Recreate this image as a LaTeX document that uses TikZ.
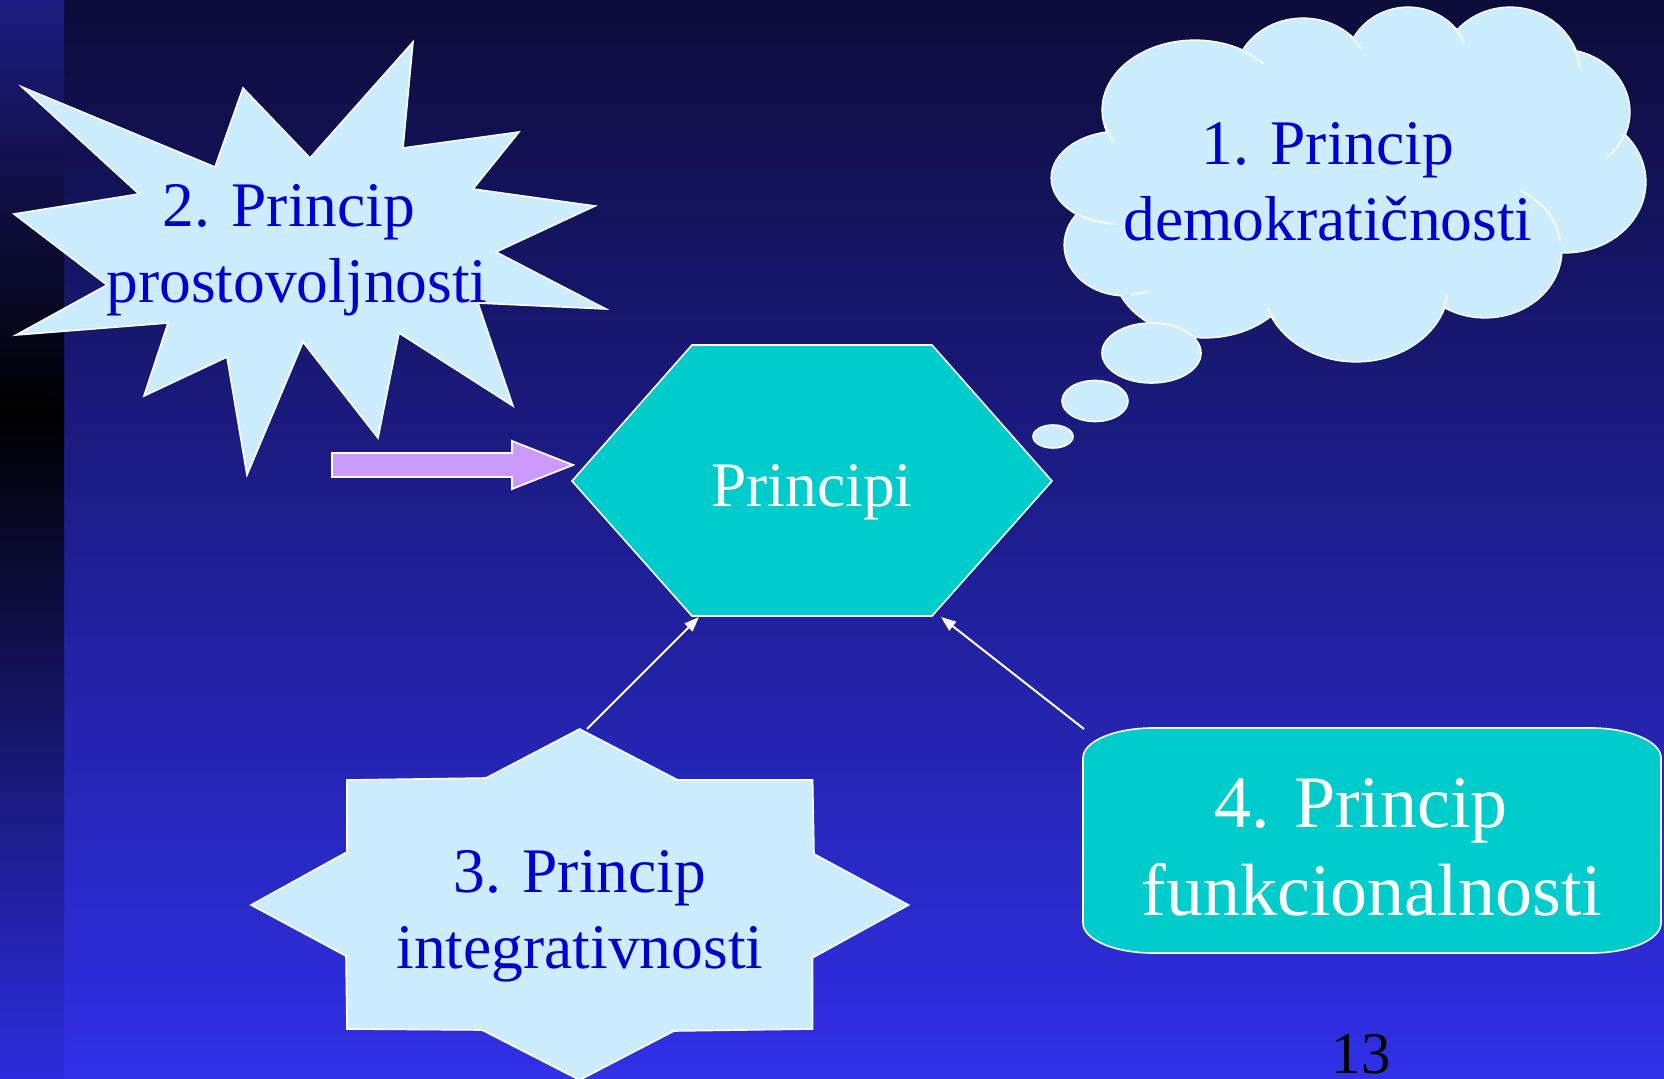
\documentclass[tikz,border=0pt]{standalone}
\usepackage{fontspec}
\setmainfont{Liberation Serif}
\usetikzlibrary{arrows.meta}
\definecolor{lblue}{HTML}{CCECFF}
\definecolor{tblue}{HTML}{0000CC}
\definecolor{tealfill}{HTML}{00CCCC}
\definecolor{purp}{HTML}{CC99FF}
\definecolor{bgtop}{RGB}{12,12,58}
\definecolor{bgbot}{RGB}{48,48,232}
\definecolor{strtop}{RGB}{28,28,128}
\definecolor{strbot}{RGB}{45,45,222}
\begin{document}
\begin{tikzpicture}[x=0.5pt,y=-0.5pt,
  lightshape/.style={fill=lblue,draw=white,line width=0.8pt,line join=miter},
  tealshape/.style={fill=tealfill,draw=white,line width=0.8pt},
  cloudline/.style={draw=white,line width=0.8pt},
  bluetext/.style={text=tblue,anchor=base,inner sep=0pt,font=\fontsize{31.75}{38}\selectfont},
  whitetext/.style={text=white,anchor=base,inner sep=0pt,font=\fontsize{31.75}{38}\selectfont},
  bigwhite/.style={text=white,anchor=base,inner sep=0pt,font=\fontsize{37}{44}\selectfont},
  conn/.style={draw=white,line width=1pt,-{Triangle[length=7.5pt,width=5.5pt]}}]
\useasboundingbox (0,0) rectangle (1664,1079);
% background
\shade[top color=bgtop,bottom color=bgbot] (0,0) rectangle (1664,1079);
\shade[top color=strtop,bottom color=black] (0,0) rectangle (64,413);
\shade[top color=black,bottom color=strbot] (0,413) rectangle (64,1079);
% starburst 2
\draw[lightshape] (22,87) -- (215,167) -- (243,88) -- (310,158) -- (413,42) -- (403,148)
  -- (519,132) -- (473,189) -- (595,206) -- (496,252) -- (606,309) -- (478,303)
  -- (513,406) -- (399,333) -- (378,438) -- (303,342) -- (247,475) -- (227,357)
  -- (144,396) -- (168,323) -- (16,335) -- (107,285) -- (14,214) -- (139,194) -- cycle;
% cloud 1
\foreach \cx/\cy/\rx/\ry in {1195/110/92/69, 1303/80/68/61, 1408/68/62/60, 1510/75/70/67,
  1560/112/69/62, 1565/182/80/70, 1485/250/76/67, 1356/285/92/76, 1205/265/92/72,
  1125/245/60/50, 1120/178/68/46}
  \draw[white,line width=1.6pt] (\cx,\cy) ellipse [x radius=\rx, y radius=\ry];
\foreach \cx/\cy/\rx/\ry in {1195/110/92/69, 1303/80/68/61, 1408/68/62/60, 1510/75/70/67,
  1560/112/69/62, 1565/182/80/70, 1485/250/76/67, 1356/285/92/76, 1205/265/92/72,
  1125/245/60/50, 1120/178/68/46, 1350/185/200/120}
  \fill[lblue] (\cx,\cy) ellipse [x radius=\rx, y radius=\ry];
% interior arcs of the cloud
\draw[cloudline] (1485,250) ++(-8:76 and 67) arc[start angle=-8,end angle=-62,x radius=76,y radius=67];
\draw[cloudline] (1356,285) ++(151:92 and 76) arc[start angle=151,end angle=162,x radius=92,y radius=76];
\draw[cloudline] (1356,285) ++(22:92 and 76) arc[start angle=22,end angle=8,x radius=92,y radius=76];
\draw[cloudline] (1120,178) ++(128:68 and 46) arc[start angle=128,end angle=94,x radius=68,y radius=46];
\draw[cloudline] (1125,245) ++(84:60 and 50) arc[start angle=84,end angle=66,x radius=60,y radius=50];
\draw[cloudline] (1560,112) ++(20:69 and 62) arc[start angle=20,end angle=48,x radius=69,y radius=62];
\draw[cloudline] (1510,75) ++(-24:70 and 67) arc[start angle=-24,end angle=-6,x radius=70,y radius=67];
\draw[cloudline] (1408,68) ++(-44:62 and 60) arc[start angle=-44,end angle=-25,x radius=62,y radius=60];
\draw[cloudline] (1303,80) ++(-46:68 and 61) arc[start angle=-46,end angle=-30,x radius=68,y radius=61];
\draw[cloudline] (1195,110) ++(-60:92 and 69) arc[start angle=-60,end angle=-42,x radius=92,y radius=69];
\draw[cloudline] (1195,110) ++(168:92 and 69) arc[start angle=168,end angle=152,x radius=92,y radius=69];
% thought bubbles
\draw[lightshape] (1151.5,353) ellipse [x radius=49.5, y radius=30];
\draw[lightshape] (1095,401) ellipse [x radius=33, y radius=20.5];
\draw[lightshape] (1053,436.5) ellipse [x radius=20, y radius=11.5];
% hexagon
\draw[tealshape] (572,481) -- (692,345) -- (932,345) -- (1052,481) -- (932,616) -- (692,616) -- cycle;
% block arrow
\draw[fill=purp,draw=white,line width=0.9pt] (332,453) -- (512,453) -- (512,441) -- (573,465)
  -- (512,489) -- (512,477) -- (332,477) -- cycle;
% star 3
\draw[lightshape] (579.6,729) -- (677.8,780) -- (812.6,780) -- (814,854) -- (908.6,905)
  -- (812.6,957.7) -- (812.6,1029) -- (674,1031) -- (579.6,1080) -- (482,1030)
  -- (347,1029) -- (346,956) -- (251,905) -- (347,852) -- (347,780) -- (486,778) -- cycle;
% rounded box 4
\draw[tealshape] (1153,728) -- (1591,728) arc[start angle=-90,end angle=0,x radius=70,y radius=30]
  -- (1661,923) arc[start angle=0,end angle=90,x radius=70,y radius=30]
  -- (1153,953) arc[start angle=90,end angle=180,x radius=70,y radius=30]
  -- (1083,758) arc[start angle=180,end angle=270,x radius=70,y radius=30] -- cycle;
% connectors
\coordinate (s3top) at (587,729);
\coordinate (hexbl) at (699,617);
\coordinate (r4corner) at (1084,729);
\coordinate (hexbr) at (941,617);
\draw[conn] (s3top) -- (hexbl);
\draw[conn] (r4corner) -- (hexbr);
% texts
\node[bluetext] (t2a) at (289,227) {2. Princip};
\node[bluetext] (t2b) at (297,303) {prostovoljnosti};
\node[bluetext] (t1a) at (1328,165) {1. Princip};
\node[bluetext] (t1b) at (1328,241) {demokratičnosti};
\node[bluetext] (t3a) at (580,892) {3. Princip};
\node[bluetext] (t3b) at (580,968) {integrativnosti};
\node[whitetext] (tp) at (812,507) {Principi};
\node[bigwhite] (t4a) at (1361,827) {4. Princip};
\node[bigwhite] (t4b) at (1372,915) {funkcionalnosti};
\node[text=black,anchor=base,inner sep=0pt,font=\fontsize{29.5}{35}\selectfont] (pg) at (1361,1073) {13};
\end{tikzpicture}
\end{document}
